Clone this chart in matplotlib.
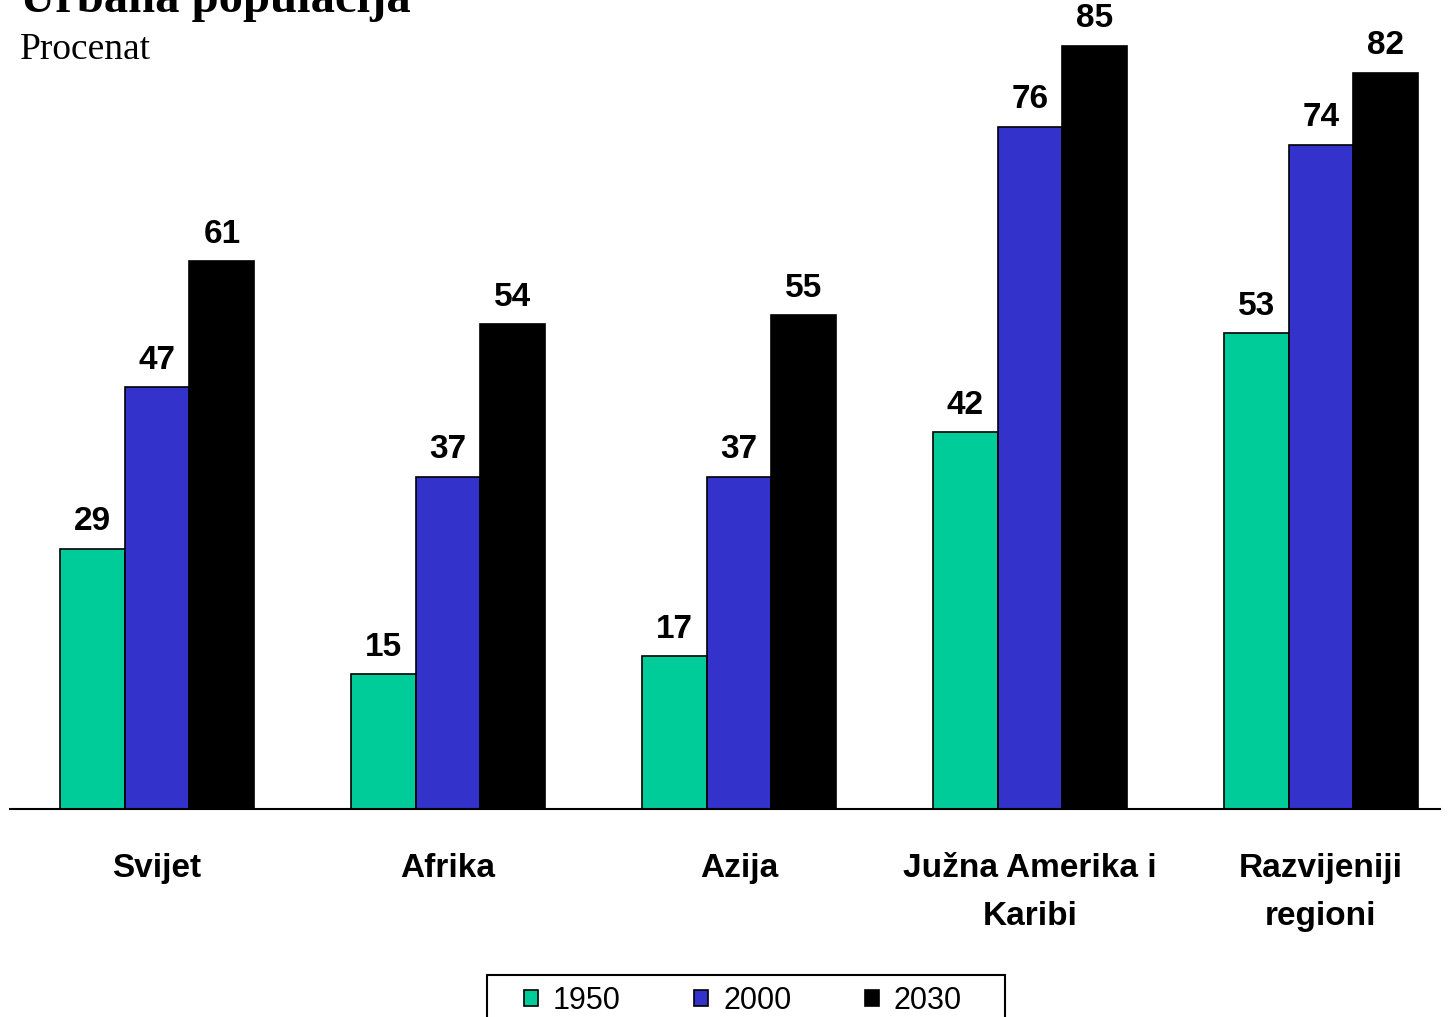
#coding:utf-8
# Urbana populacija po regionima, 1950 / 2000 / 2030
import numpy as np
import matplotlib
matplotlib.use('Agg')
import matplotlib.pyplot as plt
from matplotlib.patches import Rectangle

regioni = ['Svijet', 'Afrika', 'Azija', 'Južna Amerika i\nKaribi', 'Razvijeniji\nregioni']
godine = ['1950', '2000', '2030']
v1950 = [29, 15, 17, 42, 53]
v2000 = [47, 37, 37, 76, 74]
v2030 = [61, 54, 55, 85, 82]
boje = ['#00CC99', '#3333CC', '#000000']

W, H = 1450, 1017
fig = plt.figure(figsize=(W / 100, H / 100), dpi=100)
# osa: od x=10 do x=1440, dno na y=809
ax = fig.add_axes([10 / W, 1 - 809 / H, 1430 / W, 809 / H])

x = np.arange(len(regioni))
sirina = 0.223
for i, (vals, boja) in enumerate(zip([v1950, v2000, v2030], boje)):
    pos = x + (i - 1) * sirina
    ax.bar(pos, vals, sirina, color=boja, edgecolor='black', linewidth=1.2,
           label=godine[i], zorder=2)
    for xp, v in zip(pos, vals):
        ax.annotate(str(v), (xp, v), xytext=(0, 13.2), textcoords='offset points',
                    ha='center', va='baseline', fontsize=24, fontweight='bold',
                    family='Liberation Sans')

ax.set_xlim(-0.505, 4.409)
ax.set_ylim(0, 90.1)
for s in ['top', 'right', 'left']:
    ax.spines[s].set_visible(False)
ax.spines['bottom'].set_linewidth(1.5)
ax.set_yticks([])
ax.set_xticks(x)
ax.set_xticklabels(regioni, fontsize=24, fontweight='bold', family='Liberation Sans',
                   linespacing=1.68, va='top')
ax.tick_params(axis='x', length=0, pad=32)

# naslov i jedinica
fig.text(20 / W, 1 - 12 / H, 'Urbana populacija', family='Liberation Serif',
         fontsize=35, fontweight='bold', va='baseline', ha='left')
fig.text(20 / W, 1 - 50 / H, 'Procenat', family='Liberation Serif',
         fontsize=27, va='center', ha='left')

# okvir legende (donji rub ide ispod slike)
fig.patches.append(Rectangle((487 / W, -0.01), 518 / W, (1017 - 975) / H + 0.01,
                             transform=fig.transFigure, facecolor='white',
                             edgecolor='black', linewidth=1.5))
leg = fig.legend(loc='center', bbox_to_anchor=(743 / W, 1 - 1001 / H), ncol=3,
                 prop={'family': 'Liberation Sans', 'size': 22}, frameon=False,
                 handlelength=0.45, handleheight=0.45, handletextpad=0.5,
                 columnspacing=2.4, borderpad=0.2)

fig.savefig('out.png', dpi=100)
